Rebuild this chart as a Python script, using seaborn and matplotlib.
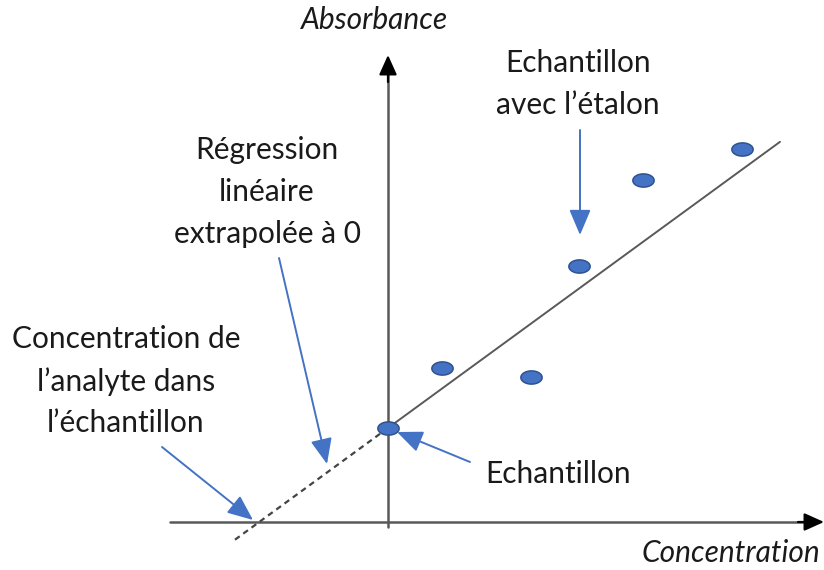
import numpy as np
import pandas as pd
import matplotlib
matplotlib.use("Agg")
import matplotlib.pyplot as plt
import seaborn as sns

# Measured points (standard addition): concentration added vs absorbance
concentration = [0.0, 0.54, 1.43, 1.91, 2.55, 3.54]
absorbance = [0.94, 1.54, 1.45, 2.56, 3.42, 3.73]

# Linear regression drawn through the sample point
intercept = 0.94
slope = 0.73
x_fit_solid = [0.0, 3.92]
x_fit_dashed = [-1.53, 0.0]

sns.set_theme(style="white")
plt.rcParams["font.family"] = ["Lato", "DejaVu Sans"]

fig = plt.figure(figsize=(8.24, 5.70), dpi=100)
ax = fig.add_axes([0, 0, 1, 1])
ax.set_xlim(-3.88, 4.36)
ax.set_ylim(-0.48, 5.22)
ax.axis("off")

axis_col = "#595959"
blue = "#4472C4"

# Coordinate axes: grey shafts with black arrowheads
ax.plot([-2.18, 4.2], [0, 0], color=axis_col, lw=1.8, zorder=1)
ax.plot([0, 0], [-0.05, 4.5], color=axis_col, lw=1.8, zorder=1)
head = dict(arrowstyle="-|>,head_length=1.0,head_width=0.45",
            color="black", lw=1.6, shrinkA=0, shrinkB=0)
ax.annotate("", xy=(4.36, 0), xytext=(4.1, 0), arrowprops=head)
ax.annotate("", xy=(0, 4.67), xytext=(0, 4.4), arrowprops=head)

# Regression line: solid over the data, dashed extrapolation to zero
fit_solid = pd.DataFrame({"x": x_fit_solid,
                          "y": [intercept + slope * v for v in x_fit_solid]})
fit_dashed = pd.DataFrame({"x": x_fit_dashed,
                           "y": [intercept + slope * v for v in x_fit_dashed]})
sns.lineplot(data=fit_solid, x="x", y="y", ax=ax, color=axis_col, lw=1.4,
             zorder=2)
sns.lineplot(data=fit_dashed, x="x", y="y", ax=ax, color="#444444", lw=1.6,
             linestyle=(0, (2.6, 2.0)), zorder=2)

# Elliptic markers for the measurements
t = np.linspace(0, 2 * np.pi, 60)
ellipse = list(zip(np.cos(t), 0.62 * np.sin(t)))
pts = pd.DataFrame({"c": concentration, "a": absorbance})
sns.scatterplot(data=pts, x="c", y="a", ax=ax, marker=ellipse, s=235,
                color=blue, edgecolor="#2F528F", linewidth=1.1, zorder=4)

ax.set_xlabel("")
ax.set_ylabel("")

fs = 21.5
txt = "#1a1a1a"

# Axis titles
ax.text(-0.13, 5.02, "Absorbance", ha="center", va="center", fontsize=fs,
        style="italic", color=txt)
ax.text(3.43, -0.31, "Concentration", ha="center", va="center", fontsize=fs,
        style="italic", color=txt)

# Annotation labels
ax.text(1.90, 4.38, "Echantillon\navec l’étalon", ha="center", va="center",
        fontsize=fs, linespacing=1.6, color=txt)
ax.text(-1.21, 3.30, "Régression\nlinéaire\nextrapolée à 0", ha="center",
        va="center", fontsize=fs, linespacing=1.6, color=txt)
ax.text(-2.62, 1.41, "Concentration de\nl’analyte dans\nl’échantillon",
        ha="center", va="center", fontsize=fs, linespacing=1.6, color=txt)
ax.text(1.70, 0.48, "Echantillon", ha="center", va="center", fontsize=fs,
        color=txt)

# Blue pointer arrows
arrow_kw = dict(arrowstyle="-|>,head_length=1.3,head_width=0.55", color=blue,
                lw=1.4, shrinkA=0, shrinkB=0)
ax.annotate("", xy=(0.09, 0.90), xytext=(0.82, 0.60), arrowprops=arrow_kw)
ax.annotate("", xy=(1.92, 2.87), xytext=(1.92, 3.92), arrowprops=arrow_kw)
ax.annotate("", xy=(-0.61, 0.58), xytext=(-1.09, 2.64), arrowprops=arrow_kw)
ax.annotate("", xy=(-1.35, 0.02), xytext=(-2.26, 0.75), arrowprops=arrow_kw)

fig.savefig("out.png", dpi=100)
